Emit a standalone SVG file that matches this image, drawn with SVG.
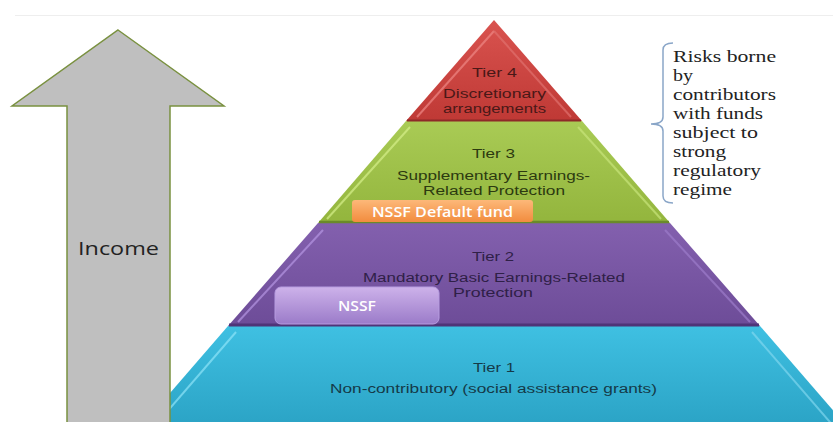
<svg xmlns="http://www.w3.org/2000/svg" width="833" height="422" viewBox="0 0 833 422">
  <defs>
    <linearGradient id="gRed" x1="0" y1="0" x2="0" y2="1">
      <stop offset="0" stop-color="#d9534f"/>
      <stop offset="1" stop-color="#bf3935"/>
    </linearGradient>
    <linearGradient id="gGreen" x1="0" y1="0" x2="0" y2="1">
      <stop offset="0" stop-color="#a9cb55"/>
      <stop offset="1" stop-color="#93b53d"/>
    </linearGradient>
    <linearGradient id="gPurple" x1="0" y1="0" x2="0" y2="1">
      <stop offset="0" stop-color="#8360ae"/>
      <stop offset="1" stop-color="#6d4c98"/>
    </linearGradient>
    <linearGradient id="gCyan" x1="0" y1="0" x2="0" y2="1">
      <stop offset="0" stop-color="#3fc0e2"/>
      <stop offset="1" stop-color="#2aa2c4"/>
    </linearGradient>
    <linearGradient id="gOrange" x1="0" y1="0" x2="0" y2="1">
      <stop offset="0" stop-color="#fdb879"/>
      <stop offset="1" stop-color="#f28c3e"/>
    </linearGradient>
    <linearGradient id="gLav" x1="0" y1="0" x2="0" y2="1">
      <stop offset="0" stop-color="#cdb2ea"/>
      <stop offset="1" stop-color="#9b7bc9"/>
    </linearGradient>
  </defs>
  <style>
    .tt { font-family: "Liberation Sans", "Open Sans", sans-serif; font-size: 12px; text-anchor: middle; }
    .wt { font-family: "Open Sans", "Liberation Sans", sans-serif; font-size: 14px; font-weight: 600; fill: #ffffff; text-anchor: middle; }
    .note { font-family: "Liberation Serif", "Times New Roman", serif; font-size: 16px; fill: #222222; }
    .hl { fill: none; stroke-width: 2; stroke-opacity: 0.7; }
  </style>

  <rect x="0" y="0" width="833" height="422" fill="#ffffff"/>
  <line x1="15" y1="15.5" x2="833" y2="15.5" stroke="#eeeeee" stroke-width="1"/>

  <!-- Tier 1 -->
  <g id="tier1">
    <polygon points="228,326 760,326 850,430 138,430" fill="url(#gCyan)"/>
    <polyline class="hl" points="236,332 146,436" stroke="#8fe4f8"/>
    <polyline class="hl" points="752,332 842,436" stroke="#7fd6ee"/>
    <text class="tt" x="494" y="372" textLength="42" lengthAdjust="spacingAndGlyphs" fill="#153a48">Tier 1</text>
    <text class="tt" x="493.5" y="393" textLength="327" lengthAdjust="spacingAndGlyphs" fill="#153a48">Non-contributory (social assistance grants)</text>
  </g>

  <!-- Tier 2 -->
  <g id="tier2">
    <polygon points="318,223 670,223 760,326 228,326" fill="url(#gPurple)"/>
    <line x1="229" y1="325" x2="759" y2="325" stroke="#4f3478" stroke-width="3"/>
    <polyline class="hl" points="323,230 238,322" stroke="#b596e2"/>
    <polyline class="hl" points="665,230 750,322" stroke="#9c7ccb"/>
    <text class="tt" x="493" y="261" textLength="42" lengthAdjust="spacingAndGlyphs" fill="#2f2047">Tier 2</text>
    <text class="tt" x="494" y="282" textLength="262" lengthAdjust="spacingAndGlyphs" fill="#2f2047">Mandatory Basic Earnings-Related</text>
    <text class="tt" x="493" y="297" textLength="80" lengthAdjust="spacingAndGlyphs" fill="#2f2047">Protection</text>
  </g>

  <!-- Tier 3 -->
  <g id="tier3">
    <polygon points="406,121 582,121 670,223 318,223" fill="url(#gGreen)"/>
    <line x1="319" y1="222" x2="669" y2="222" stroke="#6a8a2a" stroke-width="2.5"/>
    <polyline class="hl" points="410,127 327,219" stroke="#d6f08a"/>
    <polyline class="hl" points="578,127 661,219" stroke="#c8e47a"/>
    <text class="tt" x="493.5" y="158" textLength="43" lengthAdjust="spacingAndGlyphs" fill="#2c3a10">Tier 3</text>
    <text class="tt" x="493.5" y="180" textLength="193" lengthAdjust="spacingAndGlyphs" fill="#2c3a10">Supplementary Earnings-</text>
    <text class="tt" x="494" y="194.5" textLength="142" lengthAdjust="spacingAndGlyphs" fill="#2c3a10">Related Protection</text>
  </g>

  <!-- Tier 4 -->
  <g id="tier4">
    <polygon points="494,20 582,121 406,121" fill="url(#gRed)"/>
    <line x1="407" y1="120.5" x2="581" y2="120.5" stroke="#8e2a28" stroke-width="2"/>
    <polyline class="hl" points="494,31 417,117" stroke="#ee8784"/>
    <polyline class="hl" points="494,31 571,117" stroke="#e0716e"/>
    <text class="tt" x="494.5" y="77" textLength="45" lengthAdjust="spacingAndGlyphs" fill="#4a1817">Tier 4</text>
    <text class="tt" x="494.5" y="98" textLength="103" lengthAdjust="spacingAndGlyphs" fill="#4a1817">Discretionary</text>
    <text class="tt" x="494.5" y="112.5" textLength="103" lengthAdjust="spacingAndGlyphs" fill="#4a1817">arrangements</text>
  </g>

  <!-- NSSF Default fund -->
  <g id="nssf-default">
    <rect x="352" y="200" width="181" height="22" rx="3" fill="url(#gOrange)"/>
    <text class="wt" x="442.5" y="216.5" textLength="141" lengthAdjust="spacingAndGlyphs">NSSF Default fund</text>
  </g>

  <!-- NSSF -->
  <g id="nssf">
    <rect x="275" y="287" width="164" height="37" rx="6" fill="url(#gLav)" stroke="#b79ce0" stroke-width="1"/>
    <text class="wt" x="357" y="310.5" textLength="38" lengthAdjust="spacingAndGlyphs">NSSF</text>
  </g>

  <!-- Income arrow -->
  <g id="income-arrow">
    <polygon points="118,30 224,106 170,106 170,430 67,430 67,106 12,106" fill="#bfbfbf" stroke="#7a9140" stroke-width="1.5" stroke-linejoin="miter"/>
    <text x="118.5" y="255" textLength="81" lengthAdjust="spacingAndGlyphs" font-family="Open Sans, Liberation Sans, sans-serif" font-size="18" fill="#222222" text-anchor="middle">Income</text>
  </g>

  <!-- Connectors: brace -->
  <g id="connectors">
    <path d="M673,43 Q663,43 663,50 L663,117 Q663,124 651,124 Q663,124 663,131 L663,196 Q663,203 673,203" fill="none" stroke="#8aa6c8" stroke-width="1.5"/>
  </g>

  <!-- Note -->
  <g id="note">
    <text class="note" x="673" y="62" textLength="103" lengthAdjust="spacingAndGlyphs">Risks borne</text>
    <text class="note" x="673" y="81" textLength="20" lengthAdjust="spacingAndGlyphs">by</text>
    <text class="note" x="673" y="100" textLength="103" lengthAdjust="spacingAndGlyphs">contributors</text>
    <text class="note" x="673" y="119" textLength="90" lengthAdjust="spacingAndGlyphs">with funds</text>
    <text class="note" x="673" y="138" textLength="85" lengthAdjust="spacingAndGlyphs">subject to</text>
    <text class="note" x="673" y="157" textLength="53" lengthAdjust="spacingAndGlyphs">strong</text>
    <text class="note" x="673" y="176" textLength="88" lengthAdjust="spacingAndGlyphs">regulatory</text>
    <text class="note" x="673" y="195" textLength="59" lengthAdjust="spacingAndGlyphs">regime</text>
  </g>
</svg>
